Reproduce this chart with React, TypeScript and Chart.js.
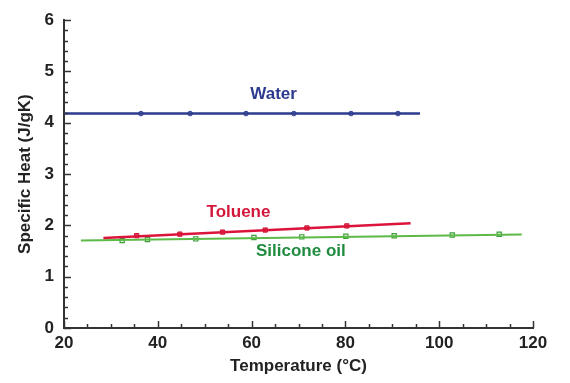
import React, { useEffect, useRef } from "react";
import { Chart, registerables } from "chart.js";

Chart.register(...registerables);

// Fitted lines (temperature °C, specific heat J/gK)
const waterFitT = [20, 95.9];
const waterFitCp = [4.18, 4.18];
const tolueneFitT = [28.4, 93.9];
const tolueneFitCp = [1.756, 2.044];
const siliconeFitT = [23.6, 117.6];
const siliconeFitCp = [1.706, 1.821];

// Measured points
const waterT = [36.4, 46.9, 58.8, 69.0, 81.2, 91.2];
const waterCp = [4.18, 4.18, 4.18, 4.18, 4.18, 4.18];
const tolueneT = [35.5, 44.7, 53.8, 62.9, 71.8, 80.3];
const tolueneCp = [1.8, 1.83, 1.87, 1.91, 1.95, 1.99];
const siliconeT = [32.4, 37.8, 48.1, 60.5, 70.7, 80.1, 90.4, 102.8, 112.8];
const siliconeCp = [1.706, 1.725, 1.737, 1.763, 1.776, 1.788, 1.8, 1.814, 1.827];

// Series labels and their anchor (data coordinates)
const seriesNames = ["Water", "Toluene", "Silicone oil"];
const labelT = [64.7, 57.2, 70.5];
const labelCp = [4.55, 2.26, 1.5];

const xTicks = [20, 40, 60, 80, 100, 120];
const yTicks = [0, 1, 2, 3, 4, 5, 6];

const FONT = "'Liberation Sans', Arial, Helvetica, sans-serif";
const WATER = "#2d3b8e";
const TOLUENE = "#dc143c";
const SILICONE = "#5cba47";
const labelColors = ["#2d3b8e", "#d4183c", "#1f8c3f"];

const pts = (xs: number[], ys: number[]) => xs.map((x, i) => ({ x, y: ys[i] }));

export default function App() {
  const ref = useRef<HTMLCanvasElement | null>(null);

  useEffect(() => {
    if (!ref.current) return;

    const innerTicks = {
      id: "innerTicks",
      afterDraw(chart: any) {
        const { ctx, chartArea, scales } = chart;
        const xs = scales.x;
        const ys = scales.y;
        ctx.save();
        ctx.strokeStyle = "#333";
        ctx.lineWidth = 1.5;
        for (let i = 0; i <= 30; i++) {
          const v = i * 0.2;
          const py = Math.round(ys.getPixelForValue(v)) + 0.5;
          const len = i % 5 === 0 ? 7 : 4;
          ctx.beginPath();
          ctx.moveTo(chartArea.left, py);
          ctx.lineTo(chartArea.left + len, py);
          ctx.stroke();
        }
        for (let i = 0; i <= 20; i++) {
          const v = 20 + i * 5;
          const px = Math.round(xs.getPixelForValue(v)) + 0.5;
          const len = i % 4 === 0 ? 7 : 4;
          ctx.beginPath();
          ctx.moveTo(px, chartArea.bottom);
          ctx.lineTo(px, chartArea.bottom - len);
          ctx.stroke();
        }
        // series labels
        ctx.font = `bold 17px ${FONT}`;
        ctx.textAlign = "center";
        ctx.textBaseline = "middle";
        seriesNames.forEach((name, i) => {
          ctx.fillStyle = labelColors[i];
          ctx.fillText(name, xs.getPixelForValue(labelT[i]), ys.getPixelForValue(labelCp[i]));
        });
        ctx.restore();
      },
    };

    const chart = new Chart(ref.current, {
      type: "line",
      data: {
        datasets: [
          {
            data: pts(waterFitT, waterFitCp),
            borderColor: WATER,
            borderWidth: 2.5,
            pointRadius: 0,
          },
          {
            data: pts(waterT, waterCp),
            showLine: false,
            pointStyle: "circle",
            pointRadius: 2.3,
            pointBackgroundColor: "#8a96c8",
            pointBorderColor: WATER,
            pointBorderWidth: 1,
          },
          {
            data: pts(tolueneFitT, tolueneFitCp),
            borderColor: TOLUENE,
            borderWidth: 2.5,
            pointRadius: 0,
          },
          {
            data: pts(tolueneT, tolueneCp),
            showLine: false,
            pointStyle: "rect",
            pointRadius: 3,
            pointBackgroundColor: "#e4485f",
            pointBorderColor: "#c8102e",
            pointBorderWidth: 1,
          },
          {
            data: pts(siliconeFitT, siliconeFitCp),
            borderColor: SILICONE,
            borderWidth: 2,
            pointRadius: 0,
          },
          {
            data: pts(siliconeT, siliconeCp),
            showLine: false,
            pointStyle: "rect",
            pointRadius: 3,
            pointBackgroundColor: "#e8f5e4",
            pointBorderColor: "#3f9e3c",
            pointBorderWidth: 1.2,
          },
        ],
      },
      options: {
        responsive: false,
        animation: false,
        layout: { padding: { top: 16, right: 37, left: 0, bottom: 0 } },
        plugins: { legend: { display: false }, tooltip: { enabled: false } },
        scales: {
          x: {
            type: "linear",
            min: 20,
            max: 120,
            afterFit: (s: any) => {
              s.height = 55;
            },
            afterBuildTicks: (s: any) => {
              s.ticks = xTicks.map((v) => ({ value: v }));
            },
            grid: { display: false, drawTicks: false },
            border: { display: true, color: "#333", width: 2 },
            ticks: {
              color: "#222",
              font: { family: FONT, size: 17, weight: "bold" },
              padding: 5,
              maxRotation: 0,
            },
            title: {
              display: true,
              text: "Temperature (°C)",
              color: "#222",
              font: { family: FONT, size: 17, weight: "bold" },
              padding: { top: 0, bottom: 6 },
            },
          },
          y: {
            type: "linear",
            min: 0,
            max: 6,
            afterFit: (s: any) => {
              s.width = 64;
            },
            afterBuildTicks: (s: any) => {
              s.ticks = yTicks.map((v) => ({ value: v }));
            },
            grid: { display: false, drawTicks: false },
            border: { display: true, color: "#333", width: 2 },
            ticks: {
              color: "#222",
              font: { family: FONT, size: 17, weight: "bold" },
              padding: 10,
            },
            title: {
              display: true,
              text: "Specific Heat (J/gK)",
              color: "#222",
              font: { family: FONT, size: 17, weight: "bold" },
              padding: { top: 15, bottom: 0 },
            },
          },
        },
      },
      plugins: [innerTicks],
    } as any);

    return () => chart.destroy();
  }, []);

  return (
    <div style={{ position: "absolute", left: 0, top: 0, width: 570, height: 383, background: "#fff" }}>
      <canvas ref={ref} width={570} height={383} />
    </div>
  );
}
